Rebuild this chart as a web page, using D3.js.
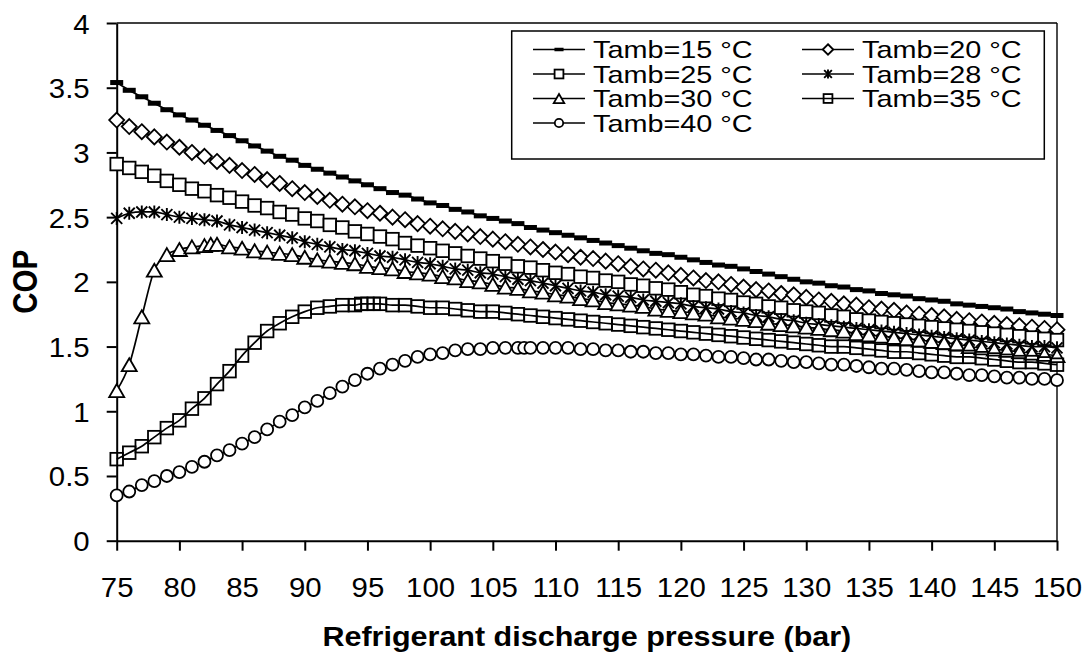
<!DOCTYPE html>
<html lang="en">
<head>
    <meta charset="UTF-8">
    <title>COP vs refrigerant discharge pressure</title>
    <style>
    body {
        margin: 0;
        background: #fff;
        font-family: Arial, "Liberation Sans", sans-serif;
    }
    svg {
        display: block;
    }
    .axis path, .axis line {
        stroke: #000;
        stroke-width: 2px;
    }
    .axis text {
        font-family: Arial, "Liberation Sans", sans-serif;
        font-size: 28px;
        fill: #000;
    }
    .frame {
        stroke: #000;
        stroke-width: 1.4px;
    }
    .title {
        font-family: Arial, "Liberation Sans", sans-serif;
        font-weight: bold;
        fill: #000;
    }
    .series-line {
        fill: none;
        stroke: #000;
        stroke-width: 1.7px;
    }
    .legend-box {
        fill: #fff;
        stroke: #000;
        stroke-width: 1.5px;
    }
    .legend-text {
        font-family: Arial, "Liberation Sans", sans-serif;
        font-size: 24px;
        fill: #000;
    }
    </style>
</head>
<body>
<div id="chart"></div>
<script src="https://d3js.org/d3.v7.min.js"></script>
<script>
// pressure grid (bar)
var pressure = [75,76,77,78,79,80,81,82,83,84,85,86,87,88,89,90,91,92,93,94,
    95,96,97,98,99,100,101,102,103,104,105,106,107,108,109,110,111,112,113,114,
    115,116,117,118,119,120,121,122,123,124,125,126,127,128,129,130,131,132,133,134,
    135,136,137,138,139,140,141,142,143,144,145,146,147,148,149,150];
var pressure30 = [75,76,77,78,79,80,81,82,82.5,83,84,85,86,87,88,89,90,91,92,93,94,
    95,96,97,98,99,100,101,102,103,104,105,106,107,108,109,110,111,112,113,114,
    115,116,117,118,119,120,121,122,123,124,125,126,127,128,129,130,131,132,133,134,
    135,136,137,138,139,140,141,142,143,144,145,146,147,148,149,150];
var pressure35 = [75,76,77,78,79,80,81,82,83,84,85,86,87,88,89,90,91,92,93,94,
    94.5,95,95.5,96,97,98,99,100,101,102,103,104,105,106,107,108,109,110,111,112,113,114,
    115,116,117,118,119,120,121,122,123,124,125,126,127,128,129,130,131,132,133,134,
    135,136,137,138,139,140,141,142,143,144,145,146,147,148,149,150];
var pressure40 = [75,76,77,78,79,80,81,82,83,84,85,86,87,88,89,90,91,92,93,94,
    95,96,97,98,99,100,101,102,103,104,105,106,107,107.5,108,109,110,111,112,113,114,
    115,116,117,118,119,120,121,122,123,124,125,126,127,128,129,130,131,132,133,134,
    135,136,137,138,139,140,141,142,143,144,145,146,147,148,149,150];

// COP values
var cop15 = [3.54,3.48,3.43,3.38,3.33,3.29,3.25,3.21,3.17,3.13,
    3.09,3.05,3.01,2.97,2.94,2.90,2.87,2.84,2.81,2.78,
    2.75,2.72,2.69,2.67,2.64,2.61,2.59,2.56,2.54,2.51,
    2.49,2.47,2.45,2.42,2.40,2.38,2.36,2.34,2.32,2.30,
    2.28,2.26,2.24,2.22,2.21,2.19,2.17,2.15,2.13,2.12,
    2.10,2.08,2.06,2.04,2.02,2.00,1.99,1.97,1.96,1.94,
    1.93,1.91,1.90,1.89,1.87,1.86,1.85,1.83,1.82,1.81,
    1.80,1.79,1.77,1.76,1.75,1.74];
var cop20 = [3.25,3.20,3.16,3.12,3.08,3.04,3.00,2.97,2.93,2.90,
    2.86,2.83,2.79,2.76,2.72,2.69,2.66,2.63,2.60,2.58,
    2.55,2.53,2.50,2.48,2.45,2.43,2.41,2.39,2.37,2.35,
    2.33,2.31,2.29,2.27,2.25,2.23,2.21,2.19,2.18,2.16,
    2.14,2.12,2.10,2.09,2.07,2.05,2.03,2.01,2.00,1.98,
    1.96,1.94,1.93,1.91,1.90,1.88,1.86,1.85,1.83,1.82,
    1.80,1.79,1.78,1.76,1.75,1.74,1.73,1.71,1.70,1.69,
    1.68,1.67,1.66,1.65,1.64,1.63];
var cop25 = [2.91,2.88,2.85,2.82,2.78,2.75,2.72,2.70,2.67,2.65,
    2.62,2.59,2.57,2.54,2.52,2.49,2.47,2.44,2.42,2.39,
    2.37,2.35,2.33,2.30,2.28,2.26,2.24,2.22,2.20,2.18,
    2.16,2.14,2.12,2.11,2.09,2.07,2.06,2.04,2.03,2.01,
    2.00,1.98,1.97,1.95,1.94,1.92,1.90,1.89,1.87,1.86,
    1.84,1.83,1.81,1.80,1.78,1.77,1.76,1.74,1.73,1.71,
    1.70,1.69,1.68,1.67,1.66,1.65,1.64,1.63,1.62,1.61,
    1.60,1.59,1.58,1.57,1.56,1.55];
var cop28 = [2.49,2.53,2.54,2.54,2.52,2.50,2.49,2.48,2.47,2.44,
    2.42,2.40,2.38,2.36,2.34,2.31,2.29,2.27,2.25,2.24,
    2.22,2.20,2.19,2.17,2.15,2.14,2.12,2.10,2.09,2.07,
    2.06,2.04,2.02,2.01,1.99,1.97,1.95,1.93,1.92,1.90,
    1.89,1.88,1.86,1.85,1.84,1.83,1.81,1.80,1.79,1.77,
    1.76,1.74,1.73,1.71,1.70,1.68,1.67,1.66,1.65,1.64,
    1.63,1.62,1.61,1.60,1.59,1.58,1.57,1.56,1.55,1.54,
    1.53,1.52,1.51,1.50,1.50,1.49];
var cop30 = [1.16,1.36,1.73,2.09,2.21,2.25,2.27,2.28,2.29,
    2.29,2.27,2.26,2.24,2.23,2.22,2.21,2.19,
    2.17,2.16,2.15,2.14,2.12,2.11,2.10,2.08,2.07,2.06,
    2.04,2.03,2.01,2.00,1.98,1.96,1.95,1.93,1.92,1.90,
    1.89,1.87,1.86,1.84,1.83,1.82,1.81,1.79,1.78,1.77,
    1.76,1.75,1.73,1.72,1.71,1.70,1.68,1.67,1.66,1.65,
    1.64,1.63,1.62,1.60,1.59,1.58,1.57,1.56,1.55,1.54,
    1.53,1.52,1.50,1.49,1.48,1.47,1.46,1.45,1.44,1.43];
var cop35 = [0.63,0.68,0.73,0.80,0.87,0.93,1.02,1.10,1.21,1.31,
    1.43,1.53,1.62,1.68,1.73,1.77,1.80,1.81,1.82,1.82,
    1.83,1.83,1.83,
    1.83,1.82,1.82,1.81,1.80,
    1.80,1.79,1.78,1.77,1.77,1.76,1.75,1.74,1.73,1.72,
    1.71,1.70,1.69,1.68,1.67,1.66,1.65,1.64,1.63,1.62,
    1.61,1.60,1.59,1.58,1.57,1.56,1.55,1.54,1.53,1.52,
    1.51,1.50,1.50,1.49,1.48,1.47,1.46,1.46,1.45,1.44,
    1.43,1.42,1.42,1.41,1.40,1.39,1.38,1.38,1.37,1.36];
var cop40 = [0.35,0.38,0.43,0.46,0.50,0.53,0.57,0.61,0.66,0.70,
    0.75,0.80,0.86,0.92,0.97,1.03,1.08,1.14,1.19,1.24,
    1.29,1.33,1.36,1.39,1.42,1.44,1.45,1.47,1.48,1.48,
    1.49,1.49,1.49,1.49,1.49,1.49,1.49,
    1.49,1.48,1.48,1.47,1.47,1.46,1.46,1.45,1.45,1.44,
    1.44,1.43,1.42,1.42,1.41,1.40,1.40,1.39,1.38,1.38,
    1.37,1.36,1.36,1.35,1.34,1.33,1.33,1.32,1.31,1.30,
    1.30,1.29,1.28,1.28,1.27,1.26,1.26,1.25,1.25,1.24];

var seriesNames = ["Tamb=15 °C","Tamb=20 °C","Tamb=25 °C","Tamb=28 °C","Tamb=30 °C","Tamb=35 °C","Tamb=40 °C"];
var xTicks = [75,80,85,90,95,100,105,110,115,120,125,130,135,140,145,150];
var yTicks = [0,0.5,1,1.5,2,2.5,3,3.5,4];

var markerKinds = ["dash","diamond","square","star","triangle","squareOpen","circle"];
var series = [
    {name: seriesNames[0], x: pressure, y: cop15},
    {name: seriesNames[1], x: pressure, y: cop20},
    {name: seriesNames[2], x: pressure, y: cop25},
    {name: seriesNames[3], x: pressure, y: cop28},
    {name: seriesNames[4], x: pressure30, y: cop30},
    {name: seriesNames[5], x: pressure35, y: cop35},
    {name: seriesNames[6], x: pressure40, y: cop40}
];
series.forEach(function(s, i) {
    s.marker = markerKinds[i];
    s.points = s.x.map(function(p, j) { return [p, s.y[j]]; });
});

var width = 1089, height = 655;
var x = d3.scaleLinear().domain([75, 150]).range([116.7, 1057]);
var y = d3.scaleLinear().domain([0, 4]).range([540.7, 23]);

var svg = d3.select("#chart").append("svg")
    .attr("width", width)
    .attr("height", height);

// plot frame (top/right)
svg.append("line").attr("class", "frame")
    .attr("x1", x(75)).attr("x2", x(150)).attr("y1", y(4)).attr("y2", y(4));
svg.append("line").attr("class", "frame")
    .attr("x1", x(150)).attr("x2", x(150)).attr("y1", y(4)).attr("y2", y(0));

// axes
var yAxis = svg.append("g").attr("class", "axis")
    .attr("transform", "translate(" + x(75) + ",0)")
    .call(d3.axisLeft(y).tickValues(yTicks).tickSize(10).tickSizeOuter(0)
        .tickFormat(function(d) { return String(d); }));
yAxis.selectAll("text")
    .attr("x", null).attr("dy", null)
    .attr("transform", "translate(-27,10) scale(1.05,1)");

var xAxis = svg.append("g").attr("class", "axis")
    .attr("transform", "translate(0," + y(0) + ")")
    .call(d3.axisBottom(x).tickValues(xTicks).tickSize(10).tickSizeOuter(0)
        .tickFormat(function(d) { return String(d); }));
xAxis.selectAll("text")
    .attr("y", null).attr("dy", null)
    .attr("transform", "translate(0,56) scale(1.05,1)");

// axis titles
svg.append("text").attr("class", "title")
    .attr("text-anchor", "middle")
    .style("font-size", "28px")
    .attr("transform", "translate(" + ((x(75) + x(150)) / 2) + ",646) scale(1.09,1)")
    .text("Refrigerant discharge pressure (bar)");
svg.append("text").attr("class", "title")
    .attr("text-anchor", "middle")
    .style("font-size", "29.5px")
    .attr("transform", "translate(37," + ((y(0) + y(4)) / 2) + ") rotate(-90) scale(1,1.17)")
    .text("COP");

// markers
function drawMarker(g, kind, k) {
    var sw = 1.8;
    if (kind === "dash") {
        g.append("rect").attr("x", -6.5 * k).attr("y", -2.5 * k)
            .attr("width", 13 * k).attr("height", 5 * k).attr("fill", "#000");
    } else if (kind === "diamond") {
        var d = 7.5 * k;
        g.append("path").attr("d", "M0," + (-d) + "L" + d + ",0L0," + d + "L" + (-d) + ",0Z")
            .attr("fill", "#fff").attr("stroke", "#000").attr("stroke-width", sw);
    } else if (kind === "square" || kind === "squareOpen") {
        var s = 6.3 * k;
        g.append("rect").attr("x", -s).attr("y", -s).attr("width", 2 * s).attr("height", 2 * s)
            .attr("fill", kind === "square" ? "#fff" : "none")
            .attr("stroke", "#000").attr("stroke-width", sw);
    } else if (kind === "star") {
        var a = 5.5 * k, b = 6.5 * k;
        g.append("path")
            .attr("d", "M" + (-a) + "," + (-a) + "L" + a + "," + a + "M" + (-a) + "," + a + "L" + a + "," + (-a) +
                "M0," + (-b) + "V" + b)
            .attr("fill", "none").attr("stroke", "#000").attr("stroke-width", 1.9);
    } else if (kind === "triangle") {
        var w = 7.5 * k, h = 6.5 * k;
        g.append("path").attr("d", "M0," + (-h) + "L" + w + "," + h + "H" + (-w) + "Z")
            .attr("fill", "#fff").attr("stroke", "#000").attr("stroke-width", sw);
    } else if (kind === "circle") {
        g.append("circle").attr("r", 6 * k)
            .attr("fill", "#fff").attr("stroke", "#000").attr("stroke-width", sw);
    }
}

var line = d3.line()
    .x(function(d) { return x(d[0]); })
    .y(function(d) { return y(d[1]); })
    .curve(d3.curveMonotoneX);

var plot = svg.append("g").attr("class", "plot");
series.forEach(function(s) {
    var g = plot.append("g");
    g.append("path").attr("class", "series-line").attr("d", line(s.points));
    g.selectAll("g.pt")
        .data(s.points)
        .enter().append("g")
        .attr("class", "pt")
        .attr("transform", function(d) { return "translate(" + x(d[0]) + "," + y(d[1]) + ")"; })
        .each(function() { drawMarker(d3.select(this), s.marker, 1); });
});

// legend
var legend = svg.append("g").attr("class", "legend");
legend.append("rect").attr("class", "legend-box")
    .attr("x", 511.7).attr("y", 31).attr("width", 532.6).attr("height", 128);

var colX = [533, 802], rowY = [49.5, 74, 98.5, 123];
series.forEach(function(s, i) {
    var cx = colX[i % 2], cy = rowY[Math.floor(i / 2)];
    var item = legend.append("g").attr("transform", "translate(" + cx + "," + cy + ")");
    item.append("line").attr("x1", 0).attr("x2", 52).attr("y1", 0).attr("y2", 0)
        .attr("stroke", "#000").attr("stroke-width", 1.5);
    drawMarker(item.append("g").attr("transform", "translate(26,0)"), s.marker, 0.7);
    item.append("text").attr("class", "legend-text")
        .attr("transform", "translate(60,8.5) scale(1.2,1)")
        .text(s.name);
});
</script>
</body>
</html>
